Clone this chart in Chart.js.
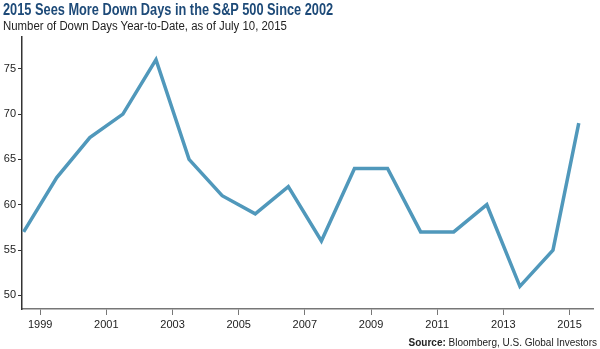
<!DOCTYPE html>
<html>
<head>
<meta charset="utf-8">
<script src="https://cdn.jsdelivr.net/npm/chart.js@4.4.1/dist/chart.umd.min.js"></script>
<style>
  html, body { margin: 0; padding: 0; background: #fff; }
  #wrap { position: relative; width: 600px; height: 349px; overflow: hidden; }
  #downDays { position: absolute; left: 0; top: 0; }
  .title {
    position: absolute; left: 3px; top: 1px; white-space: nowrap;
    font: bold 16px "Liberation Sans", Arial, sans-serif;
    color: #1d4a78; transform-origin: 0 0;
  }
  .subtitle {
    position: absolute; left: 3px; top: 19px; white-space: nowrap;
    font: 12px "Liberation Sans", Arial, sans-serif; color: #222; transform-origin: 0 0;
  }
  .source {
    position: absolute; right: 3px; top: 337px; white-space: nowrap;
    font: 10px "Liberation Sans", Arial, sans-serif; color: #222;
  }
  .source b { font-weight: bold; }
</style>
</head>
<body>
<div id="wrap">
  <canvas id="downDays" width="600" height="349"></canvas>
  <div class="title" id="ttl">2015 Sees More Down Days in the S&amp;P 500 Since 2002</div>
  <div class="subtitle" id="sub">Number of Down Days Year-to-Date, as of July 10, 2015</div>
  <div class="source"><b>Source:</b> Bloomberg, U.S. Global Investors</div>
</div>
<script>
// mid-year reading for each year, last one is the partial 2015 figure
const years = [1998.5, 1999.5, 2000.5, 2001.5, 2002.5, 2003.5, 2004.5, 2005.5, 2006.5,
               2007.5, 2008.5, 2009.5, 2010.5, 2011.5, 2012.5, 2013.5, 2014.5, 2015.28];
const downDays = [57, 63, 67.4, 70, 76, 65, 61, 59, 62, 56, 64, 64, 57, 57, 60, 51, 55, 69];
const yearTicks = [1999, 2001, 2003, 2005, 2007, 2009, 2011, 2013, 2015];
const dayTicks = [50, 55, 60, 65, 70, 75];

// squeeze header text to its width
function fitWidth(id, w) {
    const el = document.getElementById(id);
    el.style.transform = 'scaleX(' + (w / el.offsetWidth) + ')';
}
fitWidth('ttl', 330);
fitWidth('sub', 284);

const tickFont = { family: '"Liberation Sans Narrow", "Liberation Sans", Arial, sans-serif', size: 11 };

new Chart(document.getElementById('downDays'), {
    type: 'line',
    data: {
        datasets: [{
            data: years.map((y, i) => ({ x: y, y: downDays[i] })),
            borderColor: '#5098bb',
            borderWidth: 3.5,
            pointRadius: 0,
            tension: 0,
            fill: false
        }]
    },
    options: {
        responsive: false,
        animation: false,
        layout: { padding: { top: 37, right: 7, left: 0, bottom: 0 } },
        plugins: { legend: { display: false }, tooltip: { enabled: false } },
        scales: {
            x: {
                type: 'linear',
                min: 1998.45,
                max: 2015.71,
                afterBuildTicks: s => { s.ticks = yearTicks.map(v => ({ value: v })); },
                afterFit: s => { s.height = 40; },
                ticks: { color: '#222', font: tickFont, padding: 3, maxRotation: 0, callback: v => String(v) },
                grid: { drawOnChartArea: false, drawTicks: true, tickLength: 6, color: '#777' },
                border: { color: '#777', width: 1.5 }
            },
            y: {
                min: 48.5,
                max: 78.5,
                afterBuildTicks: s => { s.ticks = dayTicks.map(v => ({ value: v })); },
                afterFit: s => { s.width = 22; },
                ticks: { color: '#222', font: tickFont, padding: 2 },
                grid: { drawOnChartArea: false, drawTicks: true, tickLength: 4, color: '#333' },
                border: { color: '#333', width: 1.5 }
            }
        }
    }
});
</script>
</body>
</html>
